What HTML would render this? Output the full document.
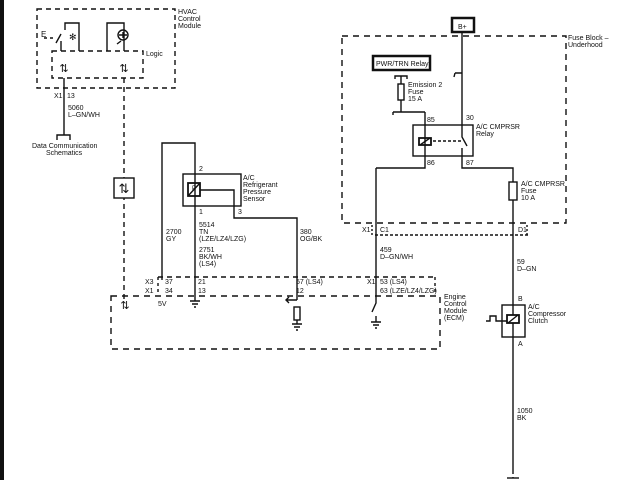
<!DOCTYPE html>
<html><head><meta charset="utf-8"><style>
html,body{margin:0;padding:0;background:#fff}
svg{display:block}
text{font-family:"Liberation Sans",sans-serif;font-size:7px;fill:#111}
</style></head><body>
<svg width="640" height="480" viewBox="0 0 640 480" xmlns="http://www.w3.org/2000/svg">
<rect x="0" y="0" width="4" height="480" fill="#111"/>
<g fill="none" stroke="#111" stroke-width="1.4">
<!-- HVAC -->
<rect x="37" y="9" width="138" height="79" stroke-dasharray="5,4"/>
<rect x="52" y="51" width="91" height="27" stroke-dasharray="5,4"/>
<path d="M44 38h3M50 38h3M56 43l5-9M61 41v10M65 30v-7h14v28M107 51V23h17v28"/>
<circle cx="123" cy="35" r="5"/>
<path d="M119 35h8M123 32v6M121 41l-4 3"/>
<path d="M64 78v57M57 140v-5h13v5"/>
<path d="M124 78v222" stroke-dasharray="5,4"/>
<rect x="114" y="178" width="20" height="20" fill="#fff"/>
<!-- sensor -->
<path d="M162 280V143h33v147"/>
<rect x="183" y="174" width="58" height="32"/>
<rect x="188" y="183" width="12" height="13" stroke-width="1.8"/>
<path d="M188 196l12-13"/>
<path d="M200 190h34v28h63v82"/>
<!-- grounds -->
<path d="M195 290v11M190 301h10M192 304h6M194 307h2"/>
<path d="M297 300h-10M289 297l-3 3 3 3"/>
<rect x="294" y="307" width="6" height="13"/>
<path d="M297 320v4M292 324h10M294 327h6M296 330h2"/>
<path d="M376 168v135l-4 9M376 316v6M371 322h10M373 325h6M375 328h2"/>
<!-- ECM -->
<path d="M158 277h277" stroke-dasharray="5,4"/>
<path d="M158 277v16M435 277v16" stroke-dasharray="3,3"/>
<rect x="111" y="296" width="329" height="53" stroke-dasharray="6,5"/>
<!-- fuse block -->
<rect x="342" y="36" width="224" height="187" stroke-dasharray="6,5"/>
<rect x="452" y="18" width="22" height="14" stroke-width="2.5"/>
<rect x="373" y="56" width="57" height="14" stroke-width="2.5"/>
<path d="M462 32v91M455 73h7M455 73l-1 4"/>
<path d="M395 79v-3h12v3M401 76v8M401 100v12M393 112h32M393 112v3"/>
<rect x="398" y="84" width="6" height="16"/>
<rect x="413" y="125" width="60" height="31"/>
<path d="M425 112v56h-49M462 123v14l5 9M462 148v20h51v302"/>
<rect x="419" y="138" width="12" height="7" stroke-width="1.8"/>
<path d="M420 145l10-7"/>
<path d="M433 141h28" stroke-dasharray="3,2"/>
<rect x="509" y="182" width="8" height="18" fill="#fff"/>
<path d="M375 235h153" stroke-dasharray="3,2"/>
<path d="M372 225v10M527 225v10" stroke-dasharray="2,2"/>
<!-- clutch -->
<rect x="502" y="305" width="23" height="32"/>
<rect x="507" y="315" width="12" height="8" fill="#fff" stroke-width="1.8"/>
<path d="M508 323l10-8M486 321h4v-5h6v5h11"/>
<path d="M513 470v8" stroke-dasharray="4,3"/>
<path d="M507 478h12"/>
</g>
<g text-anchor="middle">
<text x="64" y="72" style="font-size:11px">⇅</text>
<text x="124" y="72" style="font-size:11px">⇅</text>
<text x="124" y="193" style="font-size:13px">⇅</text>
<text x="125" y="309" style="font-size:11px">⇅</text>
</g>
<text x="69" y="40" style="font-size:9px">✻</text>
<text x="178" y="14">HVAC</text><text x="178" y="21">Control</text><text x="178" y="28">Module</text>
<text x="146" y="56">Logic</text>
<text x="41" y="37" style="font-size:8px">E</text>
<text x="54" y="98">X1</text><text x="67" y="98">13</text>
<text x="68" y="110">5060</text><text x="68" y="117">L–GN/WH</text>
<text x="32" y="148">Data Communication</text><text x="46" y="155">Schematics</text>
<text x="199" y="171">2</text><text x="199" y="214">1</text><text x="238" y="214">3</text>
<text x="243" y="180">A/C</text><text x="243" y="187">Refrigerant</text><text x="243" y="194">Pressure</text><text x="243" y="201">Sensor</text>
<text x="192" y="190" style="font-size:6px">P</text>
<text x="166" y="234">2700</text><text x="166" y="241">GY</text>
<text x="199" y="227">5514</text><text x="199" y="234">TN</text><text x="199" y="241">(LZE/LZ4/LZG)</text>
<text x="199" y="252">2751</text><text x="199" y="259">BK/WH</text><text x="199" y="266">(LS4)</text>
<text x="300" y="234">380</text><text x="300" y="241">OG/BK</text>
<text x="145" y="284">X3</text><text x="145" y="293">X1</text>
<text x="165" y="284">37</text><text x="165" y="293">34</text>
<text x="198" y="284">21</text><text x="198" y="293">13</text>
<text x="296" y="284">57 (LS4)</text><text x="296" y="293">12</text>
<text x="367" y="284">X1</text>
<text x="380" y="284">53 (LS4)</text><text x="380" y="293">63 (LZE/LZ4/LZG)</text>
<text x="158" y="306">5V</text>
<text x="444" y="299">Engine</text><text x="444" y="306">Control</text><text x="444" y="313">Module</text><text x="444" y="320">(ECM)</text>
<text x="458" y="29">B+</text>
<text x="376" y="66">PWR/TRN Relay</text>
<text x="568" y="40">Fuse Block –</text><text x="568" y="47">Underhood</text>
<text x="408" y="87">Emission 2</text><text x="408" y="94">Fuse</text><text x="408" y="101">15 A</text>
<text x="427" y="122">85</text><text x="466" y="120">30</text>
<text x="476" y="129">A/C CMPRSR</text><text x="476" y="136">Relay</text>
<text x="427" y="165">86</text><text x="466" y="165">87</text>
<text x="521" y="186">A/C CMPRSR</text><text x="521" y="193">Fuse</text><text x="521" y="200">10 A</text>
<text x="362" y="232">X1</text><text x="380" y="232">C1</text><text x="518" y="232">D1</text>
<text x="380" y="252">459</text><text x="380" y="259">D–GN/WH</text>
<text x="517" y="264">59</text><text x="517" y="271">D–GN</text>
<text x="518" y="301">B</text><text x="518" y="346">A</text>
<text x="528" y="309">A/C</text><text x="528" y="316">Compressor</text><text x="528" y="323">Clutch</text>
<text x="517" y="413">1050</text><text x="517" y="420">BK</text>
</svg>
</body></html>
